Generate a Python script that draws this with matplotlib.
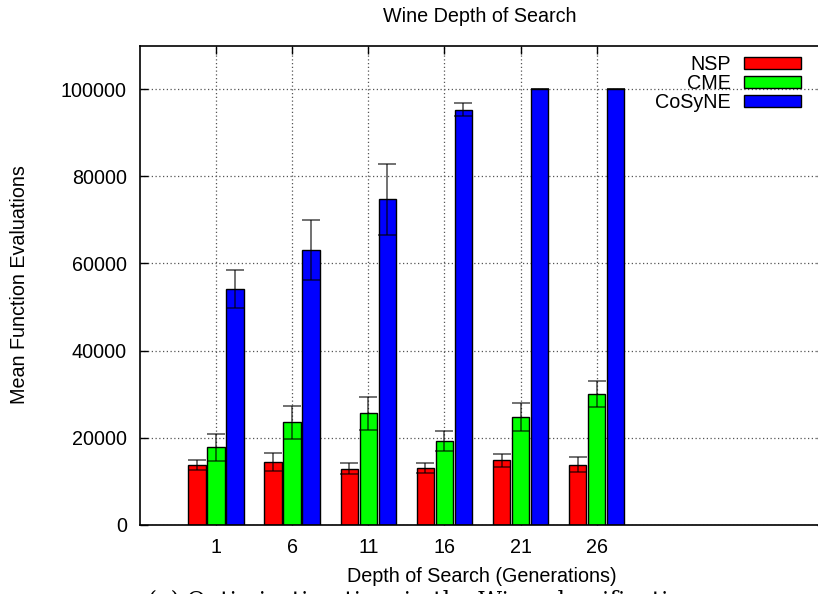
import matplotlib
matplotlib.use("Agg")
import matplotlib.pyplot as plt
import numpy as np
from matplotlib.patches import Patch

# ---- data ----
depths = [1, 6, 11, 16, 21, 26]
series = ["NSP", "CME", "CoSyNE"]
nsp_mean = [13600, 14400, 12900, 13100, 14800, 13800]
nsp_err = [1150, 2000, 1250, 1150, 1500, 1700]
cme_mean = [17800, 23500, 25600, 19300, 24700, 30000]
cme_err = [3100, 3800, 3800, 2300, 3250, 2900]
cosyne_mean = [54200, 63100, 74700, 95300, 100000, 100000]
cosyne_err = [4400, 6800, 8200, 1500, 0, 0]
yticks = [0, 20000, 40000, 60000, 80000, 100000]
colors = ["#ff0000", "#00ff00", "#0000ff"]

plt.rcParams["font.family"] = ["Liberation Sans", "DejaVu Sans"]
FS = 14.2

W, H = 818, 594
fig = plt.figure(figsize=(W / 100, H / 100), dpi=100)
left, right, top, bottom = 140, 825, 45.7, 524.7
ax = fig.add_axes([left / W, (H - bottom) / H, (right - left) / W, (bottom - top) / H])

bar_w = 1.15
offset = 1.25
x = np.array(depths, dtype=float)
means = [nsp_mean, cme_mean, cosyne_mean]
errs = [nsp_err, cme_err, cosyne_err]
handles = []
for i, (m, e, c, name) in enumerate(zip(means, errs, colors, series)):
    xi = x + (i - 1) * offset
    ax.bar(xi, m, width=bar_w, color=c, edgecolor="black", linewidth=1.0, zorder=2)
    ax.errorbar(xi, m, yerr=e, fmt="none", ecolor=(0, 0, 0, 0.6), elinewidth=1.3,
                capsize=6.2, capthick=1.3, zorder=3)
    handles.append(Patch(facecolor=c, edgecolor="black", linewidth=1.0, label=name))

ax.set_xlim(-4, 41)
ax.set_ylim(0, 110000)
ax.set_xticks(depths)
ax.set_xticklabels([str(d) for d in depths])
ax.set_yticks(yticks)
ax.set_yticklabels([str(v) for v in yticks])
ax.tick_params(direction="in", length=6, width=1.0, labelsize=FS, pad=9.4,
               top=True, right=True)
for s in ax.spines.values():
    s.set_linewidth(1.2)
ax.grid(True, color="#555555", linestyle=(0, (1, 2)), linewidth=0.9, zorder=0)
ax.set_axisbelow(True)

fig.text(480 / W, 1 - 16 / H, "Wine Depth of Search", ha="center", va="center", fontsize=FS)
fig.text(20 / W, (H - 285) / H, "Mean Function Evaluations", rotation=90,
         ha="center", va="center", fontsize=FS)
fig.text(482 / W, 1 - 576 / H, "Depth of Search (Generations)", ha="center",
         va="center", fontsize=FS)

leg = ax.legend(handles=handles, loc="upper right", frameon=False, markerfirst=False,
                fontsize=FS, handlelength=2.9, handleheight=0.52, handletextpad=0.68,
                labelspacing=0.0, borderpad=0, borderaxespad=0,
                bbox_to_anchor=(801 / W, 1 - 55 / H), bbox_transform=fig.transFigure)
for t in leg.get_texts():
    t.set_ha("right")

# caption (cut off at the bottom in the reference)
cap = fig.text(148 / W, 1 - 590 / H, "(a) Optimization time in the Wine classification",
               ha="left", va="top", fontsize=18, family="DejaVu Serif")
fig.canvas.draw()
bb = cap.get_window_extent()
cap.set_fontsize(18 * 549 / bb.width)

fig.savefig("out.png", dpi=100)
